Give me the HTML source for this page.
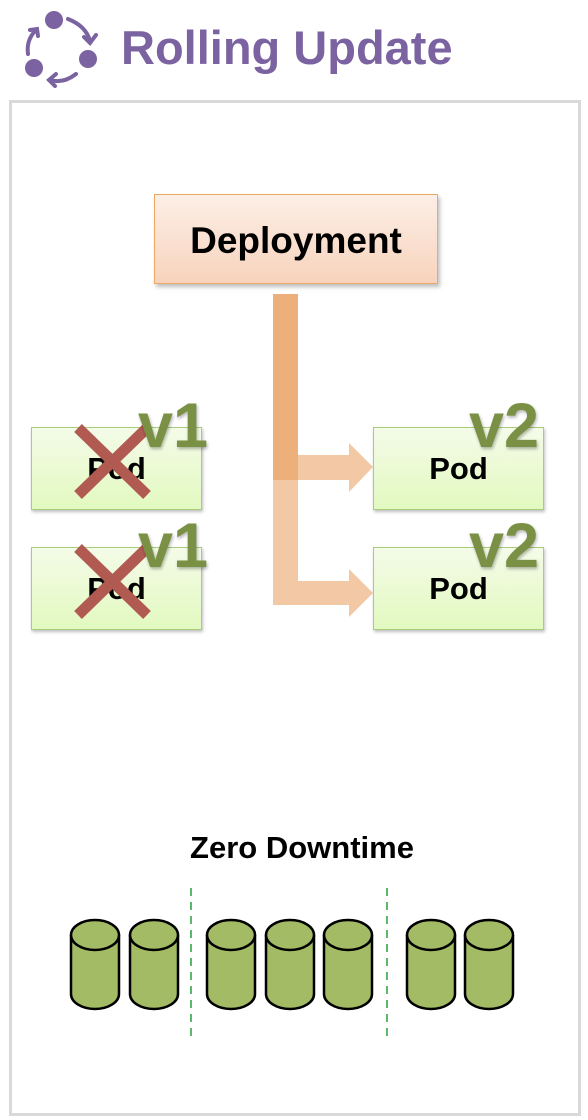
<!DOCTYPE html>
<html><head><meta charset="utf-8"><style>
body{margin:0;width:588px;height:1120px;background:#fff;position:relative;overflow:hidden;font-family:"Liberation Sans",sans-serif}
.a{position:absolute}
.frame{left:9px;top:100px;width:566px;height:1010px;border:3px solid #d9d9d9}
.pod{background:linear-gradient(#f4fbe8,#e2f9c0);border:1px solid #a9cc7a;box-shadow:1px 2px 3px rgba(0,0,0,.25);font-weight:bold;font-size:31px;text-align:center;line-height:82px;width:169px;height:81px}
.v{font-weight:bold;font-size:63px;color:#7a9045;text-shadow:1px 2px 3px rgba(0,0,0,.3);line-height:1}
</style></head><body>
<svg class="a" style="left:18px;top:4px" width="84" height="84" viewBox="0 0 84 84">
<g fill="#7b62a0"><circle cx="36" cy="16" r="9"/><circle cx="70" cy="55" r="9"/><circle cx="16" cy="64" r="9"/></g>
<g fill="none" stroke="#7b62a0" stroke-width="4" stroke-linecap="round">
<path d="M50 15 Q68 22 72 37"/><path d="M66 33 L72 39 L78 31"/>
<path d="M58 70 Q45 80 32 76"/><path d="M38 70 L31 76 L37 82"/>
<path d="M10 50 Q8 36 18 26"/><path d="M12 26 L19 25 L20 32"/></g></svg>
<div class="a" style="left:121px;top:22px;font-size:47px;font-weight:bold;color:#7b62a0;line-height:52px">Rolling Update</div>
<div class="a frame"></div>
<div class="a" style="left:154px;top:194px;width:282px;height:88px;background:linear-gradient(#fcefe6,#f8d3bd);border:1px solid #f0a865;box-shadow:2px 3px 4px rgba(0,0,0,.25);font-weight:bold;font-size:37px;text-align:center;line-height:92px">Deployment</div>
<svg class="a" style="left:0;top:0" width="588" height="1120">
<g fill="#f3c9a5">
<rect x="273" y="294" width="25" height="311"/>
<rect x="298" y="455" width="52" height="25"/><polygon points="349,443 373,467 349,492"/>
<rect x="298" y="581" width="52" height="24"/><polygon points="349,569 373,593 349,617"/>
</g>
<rect x="273" y="294" width="25" height="186" fill="#eeb07a"/>
</svg>
<div class="a pod" style="left:31px;top:427px">Pod</div>
<div class="a pod" style="left:31px;top:547px">Pod</div>
<div class="a pod" style="left:373px;top:427px">Pod</div>
<div class="a pod" style="left:373px;top:547px">Pod</div>
<svg class="a" style="left:0;top:0" width="588" height="1120">
<g stroke="#b05a52" stroke-width="11"><path d="M78 428 L147 495 M147 428 L78 495"/><path d="M78 548 L147 615 M147 548 L78 615"/></g>
</svg>
<div class="a v" style="left:138px;top:395px">v1</div>
<div class="a v" style="left:138px;top:515px">v1</div>
<div class="a v" style="left:469px;top:395px">v2</div>
<div class="a v" style="left:469px;top:515px">v2</div>
<div class="a" style="left:0;width:604px;top:830px;text-align:center;font-weight:bold;font-size:31px">Zero Downtime</div>
<svg class="a" style="left:0;top:0" width="588" height="1120">
<g stroke="#5cb96b" stroke-width="2" stroke-dasharray="8,6"><line x1="191" y1="888" x2="191" y2="1036"/><line x1="387" y1="888" x2="387" y2="1036"/></g>
<g fill="#a3bb65" stroke="#000" stroke-width="2.5">
<g id="c"><path d="M71 935 V994 A24 15 0 0 0 119 994 V935"/><ellipse cx="95" cy="935" rx="24" ry="15"/></g>
<use href="#c" x="59"/><use href="#c" x="136"/><use href="#c" x="195"/><use href="#c" x="253"/><use href="#c" x="336"/><use href="#c" x="394"/>
</g></svg>
</body></html>
